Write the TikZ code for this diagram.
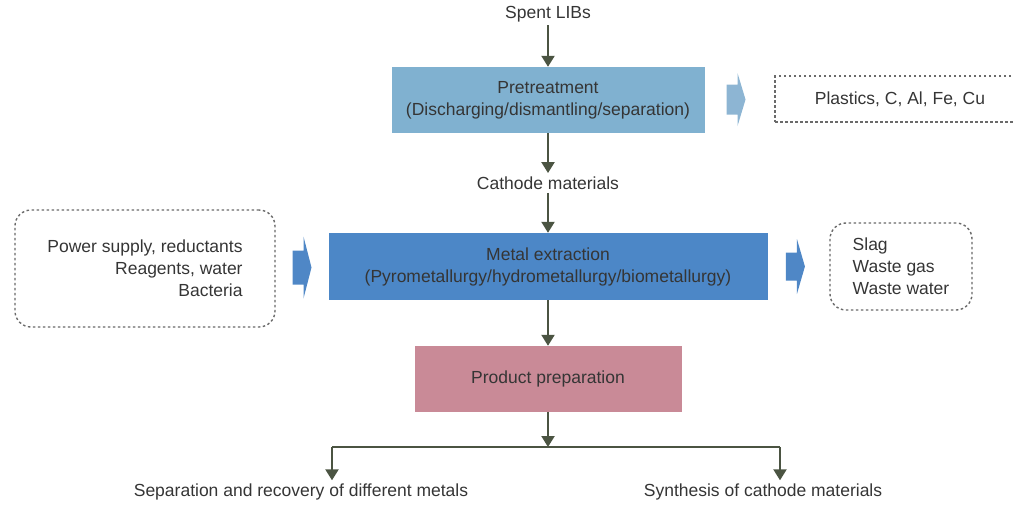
\documentclass[tikz,border=0pt]{standalone}
\usepackage{fontspec}
\setmainfont{Liberation Sans}
\usepackage{tikz}
\usetikzlibrary{calc, arrows.meta}
\usetikzlibrary{positioning}
\definecolor{arrowc}{HTML}{4B5442}
\definecolor{pretc}{HTML}{80B1D0}
\definecolor{metalc}{HTML}{4C87C7}
\definecolor{prodc}{HTML}{C98A97}
\definecolor{blockA}{HTML}{8DB5D3}
\definecolor{blockB}{HTML}{4F87C6}
\definecolor{dotc}{HTML}{6A6A6A}
\definecolor{textc}{HTML}{353535}
\NewDocumentCommand{\fatarrow}{%
    O{blockB}   % fill colour
    m           % centre of the arrow
    mm          % half height of head, half height of body
    }{%
    \fill[#1, shift={(#2)}] (-9.5,-#4) -- (1.5,-#4) -- (1.5,-#3)
        -- (9.5,0) -- (1.5,#3) -- (1.5,#4) -- (-9.5,#4) -- cycle;
}

\begin{document}
\begin{tikzpicture}[x=1pt, y=-1pt,
    every node/.style={font=\fontsize{17.5}{22}\selectfont, text=textc},
    stepbox/.style={rectangle, inner sep=0pt},
    dotbox/.style={draw=dotc, line width=1.4pt, dash pattern=on 2.5pt off 2.5pt},
    flow/.style={draw=arrowc, line width=2.2pt, -{Triangle[length=11pt,width=13pt]}}]
    \clip (0,0) rectangle (1014,504);
    % main chain
    \node (spent) at (548,14) {Spent LIBs};
    \node[stepbox, fill=pretc, minimum width=313pt, minimum height=66pt, align=center]
        (pre) at (548,100) {Pretreatment\\(Discharging/dismantling/separation)};
    \node (cathode) at (548,183) {Cathode materials};
    \node[stepbox, fill=metalc, minimum width=439pt, minimum height=67pt, align=center]
        (metal) at (548,266.5) {Metal extraction\\(Pyrometallurgy/hydrometallurgy/biometallurgy)};
    \node[stepbox, fill=prodc, minimum width=267pt, minimum height=66pt]
        (prod) at (548,379) {Product preparation};

    % side boxes
    \node[dotbox, minimum width=250pt, minimum height=46pt] (plastics) at (900,99)
        {Plastics, C, Al, Fe, Cu};
    \node[dotbox, rounded corners=16pt, minimum width=260pt, minimum height=117pt, align=right]
        (inputs) at (145,268.5) {Power supply, reductants\\Reagents, water\\Bacteria};
    \node[dotbox, rounded corners=16pt, minimum width=142pt, minimum height=87pt, align=left]
        (outputs) at (901,266.5) {Slag\\Waste gas\\Waste water};

    % products
    \node (sepa) at (301,492) {Separation and recovery of different metals};
    \node (synth) at (763,492) {Synthesis of cathode materials};

    \draw[flow] (spent) -- (pre);
    \draw[flow] (pre) -- (cathode);
    \draw[flow] (cathode) -- (metal);
    \draw[flow] (metal) -- (prod);

    \coordinate (split) at (548,447);
    \coordinate (splitL) at (332,447);
    \coordinate (splitR) at (780,447);
    \draw[flow] (prod) -- (split);
    \draw[draw=arrowc, line width=2.2pt] (splitL) -- (splitR);
    \draw[flow] (splitL) -- (splitL |- sepa.north);
    \draw[flow] (splitR) -- (splitR |- synth.north);

    % block arrows
    \coordinate (toparr) at ($(pre.east)!0.45!(plastics.west)$);
    \coordinate (inarr) at ($(inputs.east)!0.5!(metal.west)$);
    \coordinate (outarr) at ($(metal.east)!0.45!(outputs.west)$);
    \fatarrow[blockA]{toparr}{26.5}{15}
    \fatarrow{inarr}{31}{17}
    \fatarrow{outarr}{27.5}{14}
\end{tikzpicture}
\end{document}
